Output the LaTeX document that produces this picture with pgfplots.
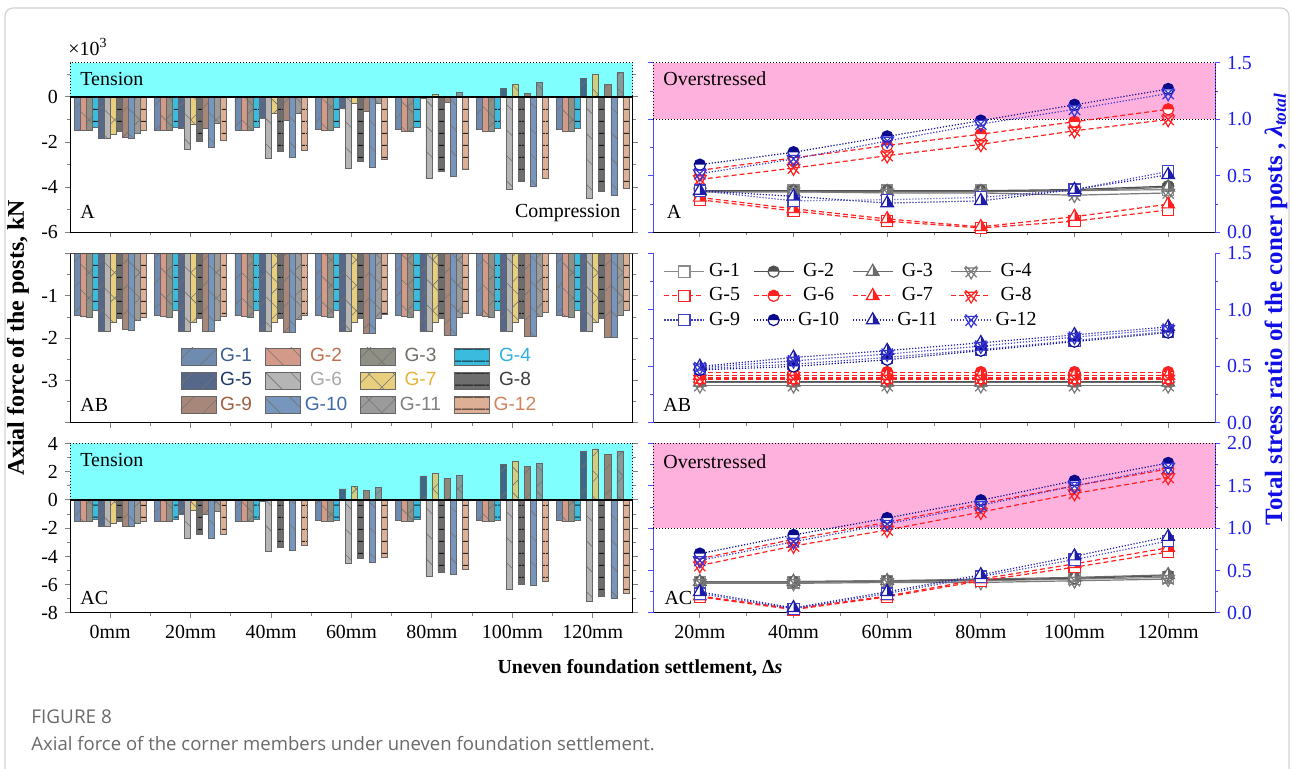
\documentclass[border=0pt]{standalone}
\usepackage{fontspec}
\setmainfont{Liberation Serif}
\newfontfamily\arialf{Liberation Sans}
\newfontfamily\capf{Open Sans}
\usepackage{pgfplots}
\usepackage{pgfplotstable}
\pgfplotsset{compat=1.18}
\usetikzlibrary{patterns.meta}

\definecolor{cyanT}{HTML}{80FFFF}
\definecolor{pinkO}{HTML}{FFB1DD}
\definecolor{blueA}{HTML}{4B4BFF}
\definecolor{blueT}{HTML}{1E1EF0}
\definecolor{blueLab}{HTML}{1010E6}
\definecolor{capgray}{HTML}{6A6A6A}
\definecolor{gA}{HTML}{8A8A8A}
\definecolor{gB}{HTML}{505050}
\definecolor{gC}{HTML}{6A6A6A}
\definecolor{gD}{HTML}{7A7A7A}
\definecolor{redL}{HTML}{FF2020}
\definecolor{bl1}{HTML}{4040C8}
\definecolor{bl2}{HTML}{0A0A8C}
\definecolor{bl3}{HTML}{1C1CA8}
\definecolor{bl4}{HTML}{3535D5}
% bar colours
\definecolor{c1}{HTML}{4B6F9C}
\definecolor{c2}{HTML}{C9816D}
\definecolor{c3}{HTML}{737368}
\definecolor{c4}{HTML}{0BACD8}
\definecolor{c5}{HTML}{2C436D}
\definecolor{c6}{HTML}{A3A3A3}
\definecolor{c7}{HTML}{E3C45E}
\definecolor{c8}{HTML}{4A4A4A}
\definecolor{c9}{HTML}{926A59}
\definecolor{c10}{HTML}{567CAE}
\definecolor{c11}{HTML}{838383}
\definecolor{c12}{HTML}{D59C7A}
% legend text colours
\definecolor{t1}{HTML}{3D5F8F}
\definecolor{t2}{HTML}{C0704F}
\definecolor{t3}{HTML}{6F6F66}
\definecolor{t4}{HTML}{2FB3E3}
\definecolor{t5}{HTML}{1F3A66}
\definecolor{t6}{HTML}{A8A8A8}
\definecolor{t7}{HTML}{E6B43C}
\definecolor{t8}{HTML}{3F3F3F}
\definecolor{t9}{HTML}{A0603F}
\definecolor{t10}{HTML}{3D6BA8}
\definecolor{t11}{HTML}{7F7F7F}
\definecolor{t12}{HTML}{D0845A}

\newcommand\tkf{\fontsize{10}{12}\selectfont}

% marks
\newcommand\defhalf[2]{%
\pgfdeclareplotmark{hc#1}{%
 \pgfscope
 \pgfpathcircle{\pgfpointorigin}{\pgfplotmarksize}%
 \pgfsetfillcolor{white}\pgfusepathqfill
 \pgfpathmoveto{\pgfqpoint{\pgfplotmarksize}{0pt}}%
 \pgfpatharc{0}{180}{\pgfplotmarksize}\pgfpathclose
 \pgfsetfillcolor{#2}\pgfusepathqfill
 \endpgfscope
 \pgfpathcircle{\pgfpointorigin}{\pgfplotmarksize}%
 \pgfusepathqstroke}%
\pgfdeclareplotmark{ht#1}{%
 \pgfscope
 \pgfpathmoveto{\pgfqpointpolar{90}{1.3\pgfplotmarksize}}%
 \pgfpathlineto{\pgfqpointpolar{210}{1.3\pgfplotmarksize}}%
 \pgfpathlineto{\pgfqpointpolar{330}{1.3\pgfplotmarksize}}%
 \pgfpathclose
 \pgfsetfillcolor{white}\pgfusepathqfill
 \pgfpathmoveto{\pgfqpointpolar{90}{1.3\pgfplotmarksize}}%
 \pgfpathlineto{\pgfqpoint{0pt}{-0.65\pgfplotmarksize}}%
 \pgfpathlineto{\pgfqpointpolar{330}{1.3\pgfplotmarksize}}%
 \pgfpathclose
 \pgfsetfillcolor{#2}\pgfusepathqfill
 \endpgfscope
 \pgfpathmoveto{\pgfqpointpolar{90}{1.3\pgfplotmarksize}}%
 \pgfpathlineto{\pgfqpointpolar{210}{1.3\pgfplotmarksize}}%
 \pgfpathlineto{\pgfqpointpolar{330}{1.3\pgfplotmarksize}}%
 \pgfpathclose
 \pgfusepathqstroke}%
}
\defhalf{gB}{gB}
\defhalf{gC}{gC}
\defhalf{red}{redL}
\defhalf{bl2}{bl2}
\defhalf{bl3}{bl3}
\pgfdeclareplotmark{xtri}{%
 \pgfpathmoveto{\pgfqpointpolar{-90}{1.3\pgfplotmarksize}}%
 \pgfpathlineto{\pgfqpointpolar{30}{1.3\pgfplotmarksize}}%
 \pgfpathlineto{\pgfqpointpolar{150}{1.3\pgfplotmarksize}}%
 \pgfpathclose
 \pgfpathmoveto{\pgfqpoint{-\pgfplotmarksize}{-\pgfplotmarksize}}%
 \pgfpathlineto{\pgfqpoint{\pgfplotmarksize}{\pgfplotmarksize}}%
 \pgfpathmoveto{\pgfqpoint{-\pgfplotmarksize}{\pgfplotmarksize}}%
 \pgfpathlineto{\pgfqpoint{\pgfplotmarksize}{-\pgfplotmarksize}}%
 \pgfusepathqstroke}

\tikzset{
 bbase/.style={draw=black!60, line width=0.35bp, fill opacity=0.8},
 pNE/.style={postaction={pattern={Lines[angle=45,distance=9bp,line width=0.3bp]},pattern color=black!55}},
 pNW/.style={postaction={pattern={Lines[angle=-45,distance=9bp,line width=0.3bp]},pattern color=black!55}},
 pX/.style={pNE,pNW},
 pH/.style={postaction={pattern={Lines[angle=0,distance=6bp,line width=0.5bp]},pattern color=black}},
 rdash/.style={dash pattern=on 2.5bp off 1.5bp},
 bdot/.style={dash pattern=on 0.6bp off 0.9bp},
}

\pgfplotsset{
 panel/.style={scale only axis, height=84.75bp, axis x line*=bottom, tick align=outside,
   major tick length=2.5bp, minor tick length=1.5bp,
   tick label style={font=\tkf}, /pgf/number format/assume math mode=true,
   axis line style={line width=0.5bp}, every tick/.append style={line width=0.5bp},
   clip=false, anchor=south west},
 lpanel/.style={panel, width=281.5bp, xmin=-0.5, xmax=6.5, xtick={0,...,6}, minor x tick num=1,
   ybar=0pt, bar width=0.075, xticklabels={}},
 rpanel/.style={panel, width=281bp, xmin=-0.5, xmax=5.5, xtick={0,...,5}, minor x tick num=1,
   ymin=0, yticklabel pos=right, y axis line style={blueA}, ytick style={blueA},
   yticklabel style={text=blueT, /pgf/number format/fixed, /pgf/number format/fixed zerofill, /pgf/number format/precision=1},
   xticklabels={}, mark size=2.8bp},
}

\newcommand\bars[1]{%
\addplot[fill=c1, bbase, pNE] table[x=x,y=g1]{#1};
\addplot[fill=c2, bbase, pNW] table[x=x,y=g2]{#1};
\addplot[fill=c3, bbase, pX] table[x=x,y=g3]{#1};
\addplot[fill=c4, bbase, pH] table[x=x,y=g4]{#1};
\addplot[fill=c5, bbase, pNE] table[x=x,y=g5]{#1};
\addplot[fill=c6, bbase, pNW] table[x=x,y=g6]{#1};
\addplot[fill=c7, bbase, pX] table[x=x,y=g7]{#1};
\addplot[fill=c8, bbase, pH] table[x=x,y=g8]{#1};
\addplot[fill=c9, bbase, pNE] table[x=x,y=g9]{#1};
\addplot[fill=c10, bbase, pNW] table[x=x,y=g10]{#1};
\addplot[fill=c11, bbase, pX] table[x=x,y=g11]{#1};
\addplot[fill=c12, bbase, pH] table[x=x,y=g12]{#1};
}
\newcommand\lines[1]{%
\addplot[gA, line width=0.6bp, mark=square*, mark options={fill=white}] table[x=x,y=g1]{#1};
\addplot[gB, line width=0.6bp, mark=hcgB] table[x=x,y=g2]{#1};
\addplot[gC, line width=0.6bp, mark=htgC] table[x=x,y=g3]{#1};
\addplot[gD, line width=0.6bp, mark=xtri] table[x=x,y=g4]{#1};
\addplot[redL, line width=0.6bp, rdash, mark=square*, mark options={fill=white,solid}] table[x=x,y=g5]{#1};
\addplot[redL, line width=0.6bp, rdash, mark=hcred, mark options={solid}] table[x=x,y=g6]{#1};
\addplot[redL, line width=0.6bp, rdash, mark=htred, mark options={solid}] table[x=x,y=g7]{#1};
\addplot[redL, line width=0.6bp, rdash, mark=xtri, mark options={solid}] table[x=x,y=g8]{#1};
\addplot[bl1, line width=0.6bp, bdot, mark=square*, mark options={fill=white,solid}] table[x=x,y=g9]{#1};
\addplot[bl2, line width=0.6bp, bdot, mark=hcbl2, mark options={solid}] table[x=x,y=g10]{#1};
\addplot[bl3, line width=0.6bp, bdot, mark=htbl3, mark options={solid}] table[x=x,y=g11]{#1};
\addplot[bl4, line width=0.6bp, bdot, mark=xtri, mark options={solid}] table[x=x,y=g12]{#1};
}

% ---------- data: axial force (x10^3 kN) ----------
\pgfplotstableread{
x g1 g2 g3 g4 g5 g6 g7 g8 g9 g10 g11 g12
0 -1.47 -1.47 -1.50 -1.34 -1.85 -1.85 -1.65 -1.53 -1.81 -1.84 -1.62 -1.50
1 -1.47 -1.47 -1.50 -1.34 -1.41 -2.31 -1.20 -1.97 -1.41 -2.25 -1.16 -1.94
2 -1.47 -1.47 -1.50 -1.34 -0.96 -2.74 -0.74 -2.43 -1.03 -2.68 -0.72 -2.35
3 -1.45 -1.47 -1.47 -1.34 -0.51 -3.15 -0.30 -2.85 -0.62 -3.10 -0.28 -2.76
4 -1.44 -1.51 -1.51 -1.35 -0.05 -3.59 0.10 -3.29 -0.25 -3.51 0.19 -3.20
5 -1.44 -1.51 -1.51 -1.38 0.38 -4.07 0.56 -3.75 0.15 -3.94 0.63 -3.62
6 -1.44 -1.51 -1.51 -1.38 0.81 -4.51 1.00 -4.18 0.54 -4.35 1.07 -4.04
}\tA
\pgfplotstableread{
x g1 g2 g3 g4 g5 g6 g7 g8 g9 g10 g11 g12
0 -1.47 -1.48 -1.50 -1.35 -1.84 -1.84 -1.62 -1.54 -1.80 -1.82 -1.58 -1.50
1 -1.47 -1.48 -1.50 -1.35 -1.84 -1.84 -1.62 -1.54 -1.83 -1.84 -1.57 -1.48
2 -1.47 -1.48 -1.50 -1.35 -1.84 -1.84 -1.62 -1.54 -1.86 -1.86 -1.55 -1.46
3 -1.47 -1.48 -1.50 -1.35 -1.84 -1.84 -1.62 -1.54 -1.88 -1.88 -1.53 -1.44
4 -1.47 -1.48 -1.50 -1.35 -1.84 -1.84 -1.62 -1.54 -1.92 -1.92 -1.51 -1.41
5 -1.47 -1.48 -1.50 -1.35 -1.84 -1.84 -1.62 -1.54 -1.95 -1.95 -1.49 -1.38
6 -1.47 -1.48 -1.50 -1.35 -1.84 -1.84 -1.62 -1.54 -1.98 -1.98 -1.47 -1.35
}\tAB
\pgfplotstableread{
x g1 g2 g3 g4 g5 g6 g7 g8 g9 g10 g11 g12
0 -1.48 -1.48 -1.53 -1.34 -1.90 -1.90 -1.67 -1.53 -1.86 -1.86 -1.65 -1.53
1 -1.48 -1.48 -1.50 -1.34 -1.01 -2.75 -0.75 -2.45 -0.99 -2.70 -0.80 -2.40
2 -1.48 -1.48 -1.53 -1.34 -0.08 -3.65 0.08 -3.34 -0.05 -3.53 0.04 -3.22
3 -1.46 -1.50 -1.50 -1.41 0.78 -4.52 0.97 -4.16 0.68 -4.39 0.90 -4.05
4 -1.46 -1.53 -1.50 -1.34 1.65 -5.39 1.90 -5.10 1.50 -5.25 1.74 -4.92
5 -1.46 -1.53 -1.50 -1.41 2.54 -6.31 2.73 -5.95 2.40 -6.07 2.59 -5.74
6 -1.46 -1.53 -1.50 -1.41 3.41 -7.15 3.62 -6.85 3.22 -6.94 3.44 -6.59
}\tAC
% ---------- data: total stress ratio ----------
\pgfplotstableread{
x g1 g2 g3 g4 g5 g6 g7 g8 g9 g10 g11 g12
0 0.37 0.37 0.36 0.36 0.29 0.55 0.31 0.47 0.37 0.60 0.37 0.52
1 0.37 0.37 0.36 0.36 0.19 0.66 0.21 0.57 0.28 0.71 0.32 0.65
2 0.37 0.37 0.36 0.35 0.10 0.77 0.12 0.68 0.29 0.85 0.26 0.81
3 0.37 0.37 0.36 0.35 0.04 0.87 0.05 0.78 0.31 0.99 0.28 0.96
4 0.37 0.38 0.37 0.33 0.10 0.98 0.14 0.90 0.38 1.13 0.38 1.09
5 0.38 0.41 0.40 0.35 0.20 1.09 0.25 1.00 0.54 1.27 0.51 1.23
}\rA
\pgfplotstableread{
x g1 g2 g3 g4 g5 g6 g7 g8 g9 g10 g11 g12
0 0.37 0.37 0.36 0.33 0.40 0.45 0.42 0.39 0.48 0.47 0.50 0.49
1 0.37 0.37 0.36 0.33 0.40 0.45 0.42 0.39 0.52 0.50 0.58 0.55
2 0.37 0.37 0.36 0.33 0.40 0.45 0.42 0.39 0.58 0.56 0.64 0.61
3 0.37 0.37 0.36 0.33 0.40 0.45 0.42 0.39 0.65 0.64 0.71 0.68
4 0.37 0.37 0.36 0.33 0.40 0.45 0.42 0.39 0.73 0.72 0.78 0.76
5 0.37 0.37 0.36 0.33 0.40 0.45 0.42 0.39 0.81 0.80 0.85 0.83
}\rAB
\pgfplotstableread{
x g1 g2 g3 g4 g5 g6 g7 g8 g9 g10 g11 g12
0 0.36 0.37 0.37 0.35 0.19 0.64 0.20 0.56 0.23 0.70 0.25 0.62
1 0.36 0.37 0.37 0.35 0.04 0.87 0.05 0.79 0.05 0.92 0.06 0.84
2 0.37 0.38 0.38 0.36 0.19 1.07 0.20 0.98 0.23 1.12 0.25 1.05
3 0.38 0.39 0.40 0.36 0.38 1.29 0.40 1.19 0.43 1.33 0.45 1.27
4 0.40 0.41 0.42 0.38 0.54 1.50 0.58 1.41 0.63 1.56 0.67 1.50
5 0.42 0.44 0.45 0.40 0.72 1.70 0.77 1.60 0.85 1.77 0.90 1.72
}\rAC

\begin{document}
\begin{tikzpicture}
\useasboundingbox (0,0) rectangle (646.5bp,384.5bp);
\fill[white] (0,0) rectangle (646.5bp,384.5bp);

% ===== left column =====
\begin{axis}[lpanel, at={(35bp,268.25bp)}, ymin=-6, ymax=1.5, ytick={-6,-4,-2,0}, minor ytick={-5,-3,-1,1}]
\fill[cyanT] (axis cs:-0.5,0) rectangle (axis cs:6.5,1.5);
\draw[densely dotted, line width=0.5bp] (axis cs:-0.5,0) rectangle (axis cs:6.5,1.5);
\bars{\tA}
\draw[line width=0.8bp] (axis cs:-0.5,0) -- (axis cs:6.5,0);
\node[anchor=west, font=\tkf] at (rel axis cs:0.006,0.905) {Tension};
\node[anchor=west, font=\tkf] at (rel axis cs:0.006,0.12) {A};
\node[anchor=east, font=\tkf] at (rel axis cs:0.99,0.115) {Compression};
\end{axis}

\begin{axis}[lpanel, at={(35bp,173bp)}, ymin=-4, ymax=0, ytick={-4,-3,-2,-1,0}, yticklabels={,-3,-2,-1,}, minor y tick num=1,
  legend image code/.code={\draw[#1] (0bp,-4.25bp) rectangle (17.5bp,4.25bp);},
  legend style={at={(0.185,0.49)}, anchor=north west, draw=none, fill=none, font=\arialf\fontsize{9.6}{10}\selectfont,
    legend columns=4, /tikz/every even column/.append style={column sep=4.5bp}}]
\bars{\tAB}
\draw[line width=0.6bp, black!70] (axis cs:-0.5,0) -- (axis cs:6.5,0);
\node[anchor=west, font=\tkf] at (rel axis cs:0.006,0.105) {AB};
\legend{\textcolor{t1}{G-1},\textcolor{t2}{G-2},\textcolor{t3}{G-3},\textcolor{t4}{G-4},
\textcolor{t5}{G-5},\textcolor{t6}{G-6},\textcolor{t7}{G-7},\textcolor{t8}{G-8},
\textcolor{t9}{G-9},\textcolor{t10}{G-10},\textcolor{t11}{G-11},\textcolor{t12}{G-12}}
\end{axis}

\begin{axis}[lpanel, at={(35bp,78bp)}, ymin=-8, ymax=4, ytick={-8,-6,...,4}, minor ytick={-7,-5,...,3},
  xticklabels={0mm,20mm,40mm,60mm,80mm,100mm,120mm}]
\fill[cyanT] (axis cs:-0.5,0) rectangle (axis cs:6.5,4);
\draw[densely dotted, line width=0.5bp] (axis cs:-0.5,0) rectangle (axis cs:6.5,4);
\bars{\tAC}
\draw[line width=0.8bp] (axis cs:-0.5,0) -- (axis cs:6.5,0);
\node[anchor=west, font=\tkf] at (rel axis cs:0.006,0.9) {Tension};
\node[anchor=west, font=\tkf] at (rel axis cs:0.006,0.088) {AC};
\end{axis}

% ===== right column =====
\begin{axis}[rpanel, at={(326.5bp,268.25bp)}, ymax=1.5, ytick={0,0.5,1,1.5}, minor y tick num=1]
\fill[pinkO] (axis cs:-0.5,1) rectangle (axis cs:5.5,1.5);
\draw[densely dotted, line width=0.5bp] (axis cs:-0.5,1) rectangle (axis cs:5.5,1.5);
\lines{\rA}
\node[anchor=west, font=\tkf] at (rel axis cs:0.006,0.905) {Overstressed};
\node[anchor=west, font=\tkf] at (rel axis cs:0.012,0.12) {A};
\end{axis}

\begin{axis}[rpanel, at={(326.5bp,173bp)}, ymax=1.5, ytick={0,0.5,1,1.5}, minor y tick num=1,
  legend image code/.code={\draw[mark repeat=2,mark phase=2,#1] plot coordinates {(0bp,0bp) (10bp,0bp) (20bp,0bp)};},
  legend style={at={(0.008,0.99)}, anchor=north west, draw=none, fill=none, font=\tkf,
    legend columns=4, /tikz/every even column/.append style={column sep=4.5bp}}]
\lines{\rAB}
\node[anchor=west, font=\tkf] at (rel axis cs:0.006,0.105) {AB};
\legend{G-1,G-2,G-3,G-4,G-5,G-6,G-7,G-8,G-9,G-10,G-11,G-12}
\end{axis}

\begin{axis}[rpanel, at={(326.5bp,78bp)}, ymax=2, ytick={0,0.5,1,1.5,2}, minor y tick num=1,
  xticklabels={20mm,40mm,60mm,80mm,100mm,120mm}]
\fill[pinkO] (axis cs:-0.5,1) rectangle (axis cs:5.5,2);
\draw[densely dotted, line width=0.5bp] (axis cs:-0.5,1) rectangle (axis cs:5.5,2);
\lines{\rAC}
\node[anchor=west, font=\tkf] at (rel axis cs:0.006,0.895) {Overstressed};
\node[anchor=west, font=\tkf] at (rel axis cs:0.008,0.088) {AC};
\end{axis}

% ===== free text =====
\begin{scope}[shift={(0bp,384.5bp)}, x=0.5bp, y=-0.5bp]
\draw[black!18, line width=0.6bp, rounded corners=4bp] (5,8) rectangle (1289,800);
\node[anchor=west, font=\tkf, inner sep=0pt] at (68,47) {×10\textsuperscript{3}};
\node[rotate=90, font=\bfseries\fontsize{12}{14}\selectfont] at (18,338) {Axial force of the posts, kN};
\node[rotate=90, text=blueLab, font=\bfseries\fontsize{12.5}{14}\selectfont] at (1276,309) {Total stress ratio of the coner posts , \textit{λ}\textsubscript{\textit{total}}};
\node[font=\bfseries\fontsize{10}{12}\selectfont] at (640,668) {Uneven foundation settlement, Δ\textit{s}};
\node[anchor=west, font=\capf\fontsize{9.5}{11}\selectfont, text=capgray, inner sep=0pt] at (31,717) {FIGURE 8};
\node[anchor=west, font=\capf\fontsize{9.3}{11}\selectfont, text=capgray, inner sep=0pt] at (31,744) {Axial force of the corner members under uneven foundation settlement.};
\end{scope}
\end{tikzpicture}
\end{document}
